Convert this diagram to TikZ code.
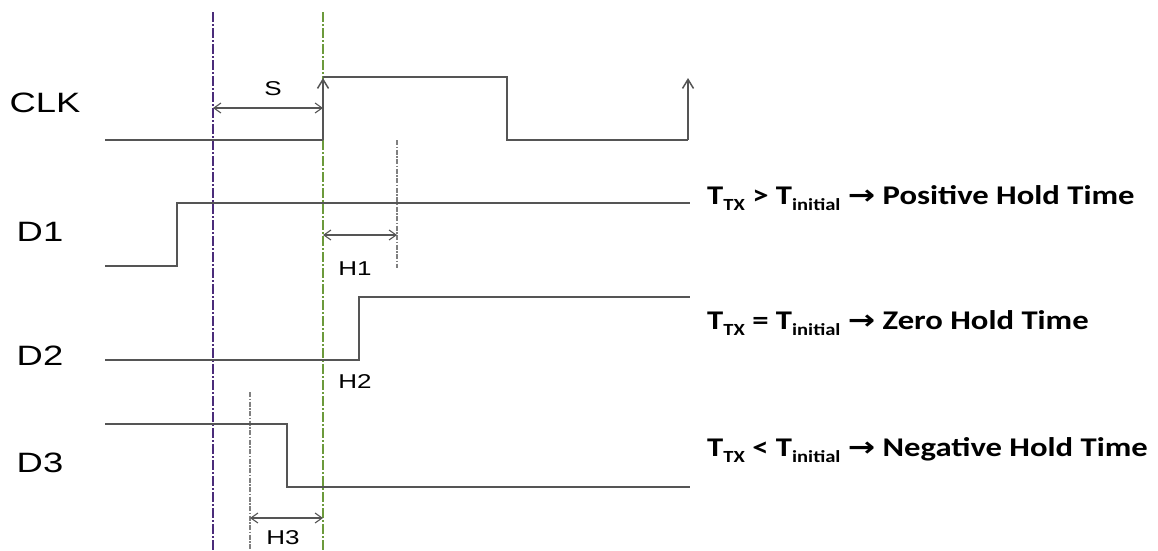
\documentclass[tikz,border=0pt]{standalone}
\usepackage{fontspec}
\setmainfont{Liberation Sans}
\newfontfamily\notefont{Carlito}
\newfontfamily\arrowfont{DejaVu Sans}
\usetikzlibrary{arrows.meta}
\definecolor{wavegray}{HTML}{555555}
\definecolor{setupline}{HTML}{4B2C7A}
\definecolor{clkline}{HTML}{6C9A3C}
\newcommand{\wide}[1]{\scalebox{1.3}[1]{#1}}
\newcommand{\tsub}[1]{\raisebox{-0.45ex}{\fontsize{17}{17}\selectfont #1}}
\newcommand{\holdnote}[2]{\scalebox{1.21}[1]{T\tsub{TX} #1 T\tsub{initial} {\arrowfont\char"2192} #2}}

\begin{document}
\begin{tikzpicture}[x=1pt, y=-1pt,
    wave/.style={draw=wavegray, line width=1.5pt},
    edge/.style={wave, -{Straight Barb[length=9pt, width=11pt]}},
    dim/.style={draw=wavegray, line width=1.1pt, {Straight Barb[length=7pt, width=10pt]}-{Straight Barb[length=7pt, width=10pt]}},
    marker/.style={line width=2.4pt, dash pattern=on 10pt off 2pt on 2pt off 2pt},
    guide/.style={draw=gray, line width=1.1pt, dash pattern=on 5pt off 1.5pt on 1.5pt off 1.5pt},
    sig/.style={font=\fontsize{28}{30}\selectfont, inner sep=0pt},
    tag/.style={font=\fontsize{20}{22}\selectfont, inner sep=0pt},
    note/.style={font=\notefont\bfseries\fontsize{27}{30}\selectfont, anchor=west, inner sep=0pt}]
  \useasboundingbox (0,0) rectangle (1158,550);
  % timing markers
  \coordinate (setup top) at (213,12);  \coordinate (setup bot) at (213,550);
  \coordinate (clk top) at (323,12);    \coordinate (clk bot) at (323,550);
  \draw[marker, setupline] (setup top) -- (setup bot);
  \draw[marker, clkline] (clk top) -- (clk bot);
  \draw[guide] (397,140) -- (397,268);
  \draw[guide] (250,392) -- (250,550);
  % signal names
  \node[sig] (clk) at (45,103) {\wide{CLK}};
  \node[sig] (d1) at (40,232) {\wide{D1}};
  \node[sig] (d2) at (40,356) {\wide{D2}};
  \node[sig] (d3) at (40,463) {\wide{D3}};
  % waveforms
  \draw[wave] (105,140) -- (323,140);
  \draw[edge] (323,140) -- (323,78);
  \draw[wave] (323,77) -| (507,140) -- (688,140);
  \draw[edge] (688,140) -- (688,78);
  \draw[wave] (105,266) -| (177,203) -- (690,203);
  \draw[wave] (105,360) -| (359,297) -- (690,297);
  \draw[wave] (105,424) -| (287,487) -- (690,487);
  % setup and hold spans
  \draw[dim] (213,108) -- (323,108);
  \draw[dim] (323,235) -- (397,235);
  \draw[dim] (250,518) -- (323,518);
  \node[tag] (s) at (273,89) {\wide{S}};
  \node[tag] (h1) at (355,269) {\wide{H1}};
  \node[tag] (h2) at (355,382) {\wide{H2}};
  \node[tag] (h3) at (283,538) {\wide{H3}};
  % results
  \node[note] (pos) at (707,198) {\holdnote{>}{Positive Hold Time}};
  \node[note] (zero) at (707,323) {\holdnote{=}{Zero Hold Time}};
  \node[note] (neg) at (707,450) {\holdnote{<}{Negative Hold Time}};
\end{tikzpicture}
\end{document}
